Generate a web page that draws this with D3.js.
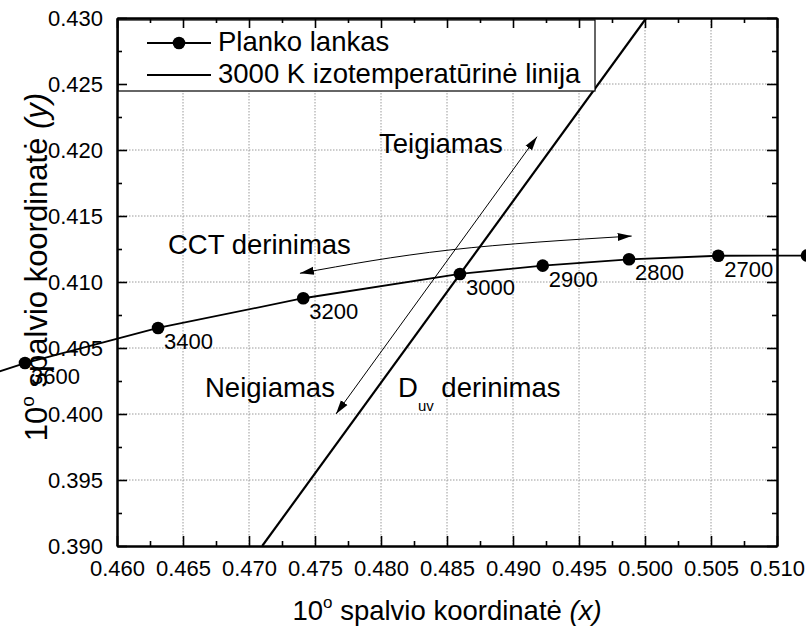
<!DOCTYPE html>
<html>
<head>
<meta charset="utf-8">
<script src="https://cdn.jsdelivr.net/npm/d3@7"></script>
<style>
  html, body { margin: 0; padding: 0; background: #fff; }
  svg { display: block; font-family: Arial, "Liberation Sans", sans-serif; }
</style>
</head>
<body>
<svg id="chart" width="806" height="626"></svg>
<script>
// Planckian locus points (10° observer chromaticity) with their temperatures
const locusCCT = [3800, 3600, 3400, 3200, 3000, 2900, 2800, 2700, 2600];
const locusX   = [0.4437, 0.45303, 0.46311, 0.47411, 0.48598, 0.49225, 0.49879, 0.50555, 0.51227];
const locusY   = [0.4008, 0.40386, 0.40652, 0.40877, 0.41061, 0.41124, 0.41172, 0.41199, 0.41200];
const labelledCCT = [3600, 3400, 3200, 3000, 2900, 2800, 2700];

// 3000 K isotemperature line end points
const isoX = [0.4710, 0.5001];
const isoY = [0.3900, 0.4300];

// Duv tuning arrow (double headed), CCT tuning arrow (double headed, slight arc)
const duvArrowX = [0.47659, 0.49182];
const duvArrowY = [0.40000, 0.42101];
const cctArrowX = [0.47386, 0.48523, 0.49899];
const cctArrowY = [0.41066, 0.41243, 0.41348];

// Axis ticks
const xTicks = [0.460, 0.465, 0.470, 0.475, 0.480, 0.485, 0.490, 0.495, 0.500, 0.505, 0.510];
const yTicks = [0.390, 0.395, 0.400, 0.405, 0.410, 0.415, 0.420, 0.425, 0.430];
const xMinor = xTicks.slice(0, -1).map((v, i) => (v + xTicks[i + 1]) / 2);
const yMinor = yTicks.slice(0, -1).map((v, i) => (v + yTicks[i + 1]) / 2);

// Legend entries
const legendLabels = ["Planko lankas", "3000 K izotemperatūrinė linija"];

const svg = d3.select("#chart");
const L = 117, R = 777, T = 18, B = 546;

const x = d3.scaleLinear().domain([0.460, 0.510]).range([L, R]);
const y = d3.scaleLinear().domain([0.390, 0.430]).range([B, T]);

// defs: clip + arrowheads
const defs = svg.append("defs");
defs.append("clipPath").attr("id", "plotClip")
  .append("rect").attr("x", L).attr("y", T).attr("width", R - L).attr("height", B - T);
defs.append("marker")
  .attr("id", "head")
  .attr("markerUnits", "userSpaceOnUse")
  .attr("viewBox", "0 -5 14 10")
  .attr("refX", 14).attr("refY", 0)
  .attr("markerWidth", 14).attr("markerHeight", 10)
  .attr("orient", "auto-start-reverse")
  .append("path").attr("d", "M0,-4L14,0L0,4Z").attr("fill", "#000");

// grid
const grid = svg.append("g").attr("stroke", "#9a9a9a").attr("stroke-width", 1)
  .attr("stroke-dasharray", "1.5,1.5");
grid.selectAll("line.gx").data(xTicks.slice(1, -1)).join("line")
  .attr("x1", d => x(d)).attr("x2", d => x(d)).attr("y1", T).attr("y2", B);
grid.selectAll("line.gy").data(yTicks.slice(1, -1)).join("line")
  .attr("y1", d => y(d)).attr("y2", d => y(d)).attr("x1", L).attr("x2", R);

// isotemperature line
svg.append("path")
  .attr("clip-path", "url(#plotClip)")
  .attr("d", d3.line()(isoX.map((v, i) => [x(v), y(isoY[i])])))
  .attr("stroke", "#000").attr("stroke-width", 2.2).attr("fill", "none");

// Planckian locus
const locus = locusX.map((v, i) => ({ x: v, y: locusY[i], t: locusCCT[i] }));
svg.append("path")
  .attr("d", d3.line().x(d => x(d.x)).y(d => y(d.y))(locus))
  .attr("stroke", "#000").attr("stroke-width", 1.8).attr("fill", "none");
svg.selectAll("circle.pt").data(locus).join("circle")
  .attr("cx", d => x(d.x)).attr("cy", d => y(d.y)).attr("r", 6.3).attr("fill", "#000");
svg.selectAll("text.pt").data(locus.filter(d => labelledCCT.includes(d.t))).join("text")
  .attr("x", d => x(d.x) + 6).attr("y", d => y(d.y) + 21)
  .attr("font-size", 22).text(d => d.t);

// arrows
svg.append("path")
  .attr("d", d3.line()(duvArrowX.map((v, i) => [x(v), y(duvArrowY[i])])))
  .attr("stroke", "#000").attr("stroke-width", 1).attr("fill", "none")
  .attr("marker-start", "url(#head)").attr("marker-end", "url(#head)");
svg.append("path")
  .attr("d", d3.line().curve(d3.curveNatural)(cctArrowX.map((v, i) => [x(v), y(cctArrowY[i])])))
  .attr("stroke", "#000").attr("stroke-width", 1).attr("fill", "none")
  .attr("marker-start", "url(#head)").attr("marker-end", "url(#head)");

// annotations
const ann = svg.append("g").attr("font-size", 27.5);
ann.append("text").attr("x", 379).attr("y", 153).text("Teigiamas");
ann.append("text").attr("x", 168).attr("y", 254).text("CCT derinimas");
ann.append("text").attr("x", 205).attr("y", 397).text("Neigiamas");
const duv = ann.append("text").attr("x", 398).attr("y", 397);
duv.append("tspan").text("D");
duv.append("tspan").attr("font-size", 15).attr("dy", 14).text("uv");
duv.append("tspan").attr("dy", -14).text(" derinimas");

// legend
const lg = svg.append("g");
lg.append("rect").attr("x", L + 1).attr("y", T + 2).attr("width", 477).attr("height", 71)
  .attr("fill", "#fff").attr("stroke", "#000").attr("stroke-width", 1.2);
[43, 75].forEach((ly, i) => {
  lg.append("line").attr("x1", 147).attr("x2", 211).attr("y1", ly).attr("y2", ly)
    .attr("stroke", "#000").attr("stroke-width", i === 0 ? 1.8 : 2);
  if (i === 0) lg.append("circle").attr("cx", 179).attr("cy", ly).attr("r", 6.3).attr("fill", "#000");
  lg.append("text").attr("x", 218).attr("y", ly + 8).attr("font-size", 27.5).text(legendLabels[i]);
});

// axes
function styleAxis(g) {
  g.selectAll("path.domain").attr("stroke-width", 2).attr("stroke", "#000");
  g.selectAll(".tick line").attr("stroke-width", 1.6).attr("stroke", "#000");
  g.selectAll("text").attr("font-size", 22).attr("fill", "#000")
    .attr("font-family", "Arial, 'Liberation Sans', sans-serif");
}
const fmt = d3.format(".3f");
svg.append("g").attr("transform", `translate(0,${B})`)
  .call(d3.axisBottom(x).tickValues(xTicks).tickFormat(fmt).tickSize(-10).tickSizeOuter(0).tickPadding(14.4))
  .call(styleAxis);
svg.append("g").attr("transform", `translate(0,${B})`)
  .call(d3.axisBottom(x).tickValues(xMinor).tickFormat("").tickSize(-5).tickSizeOuter(0))
  .call(styleAxis);
svg.append("g").attr("transform", `translate(0,${T})`)
  .call(d3.axisTop(x).tickValues(xTicks).tickFormat("").tickSize(-10).tickSizeOuter(0))
  .call(styleAxis);
svg.append("g").attr("transform", `translate(0,${T})`)
  .call(d3.axisTop(x).tickValues(xMinor).tickFormat("").tickSize(-5).tickSizeOuter(0))
  .call(styleAxis);
svg.append("g").attr("transform", `translate(${L},0)`)
  .call(d3.axisLeft(y).tickValues(yTicks).tickFormat(fmt).tickSize(-10).tickSizeOuter(0).tickPadding(14))
  .call(styleAxis);
svg.append("g").attr("transform", `translate(${L},0)`)
  .call(d3.axisLeft(y).tickValues(yMinor).tickFormat("").tickSize(-5).tickSizeOuter(0))
  .call(styleAxis);
svg.append("g").attr("transform", `translate(${R},0)`)
  .call(d3.axisRight(y).tickValues(yTicks).tickFormat("").tickSize(-10).tickSizeOuter(0))
  .call(styleAxis);
svg.append("g").attr("transform", `translate(${R},0)`)
  .call(d3.axisRight(y).tickValues(yMinor).tickFormat("").tickSize(-5).tickSizeOuter(0))
  .call(styleAxis);

// axis titles
const xt = svg.append("text").attr("x", (L + R) / 2).attr("y", 620)
  .attr("text-anchor", "middle").attr("font-size", 27.5);
xt.append("tspan").text("10");
xt.append("tspan").attr("font-size", 17).attr("dy", -12).text("o");
xt.append("tspan").attr("dy", 12).text(" spalvio koordinatė ");
xt.append("tspan").attr("font-style", "italic").text("(x)");

const yt = svg.append("text").attr("transform", "translate(47,267) rotate(-90)")
  .attr("text-anchor", "middle").attr("font-size", 31);
yt.append("tspan").text("10");
yt.append("tspan").attr("font-size", 19).attr("dy", -13).text("o");
yt.append("tspan").attr("dy", 13).text(" spalvio koordinatė ");
yt.append("tspan").attr("font-style", "italic").text("(y)");
</script>
</body>
</html>
